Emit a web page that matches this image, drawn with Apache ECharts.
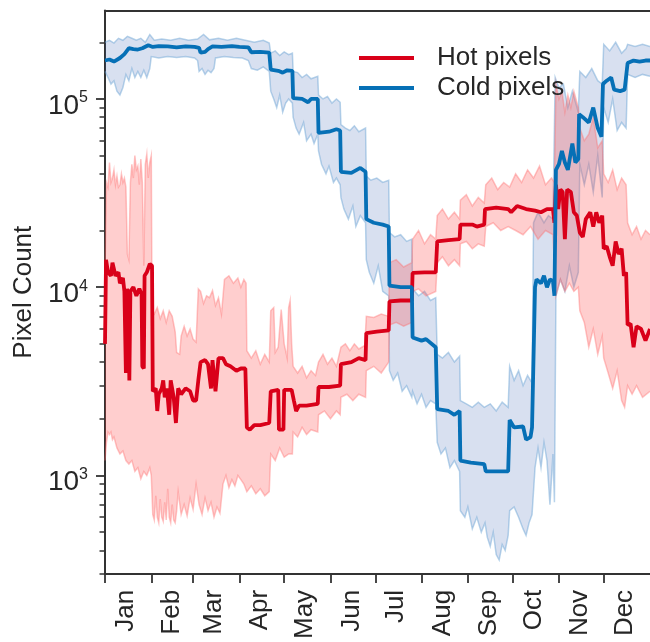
<!DOCTYPE html>
<html>
<head>
<meta charset="utf-8">
<script src="https://cdn.jsdelivr.net/npm/echarts@6/dist/echarts.min.js"></script>
<style>html,body{margin:0;padding:0;background:#fff;}</style>
</head>
<body>
<div id="chart" style="width:650px;height:642px"></div>
<script type="text/javascript">
// axis values
var months = ['Jan', 'Feb', 'Mar', 'Apr', 'May', 'Jun', 'Jul', 'Aug', 'Sep', 'Oct', 'Nov', 'Dec'];
var monthStarts = [0, 31, 59, 90, 120, 151, 181, 212, 243, 273, 304, 334];
var majorTicks = [1e3, 1e4, 1e5];
var minorTicks = [300, 400, 500, 600, 700, 800, 900,
    2000, 3000, 4000, 5000, 6000, 7000, 8000, 9000,
    20000, 30000, 40000, 50000, 60000, 70000, 80000, 90000, 200000];

// [day of year, pixel count]
var hotMedian = [[0, 5000], [0.7, 14000], [2, 12000], [4, 11500], [5, 13500], [7, 11500], [9, 12000], [10, 10500], [12, 11200], [13, 9500], [14, 3500], [14.8, 9800], [15.5, 9000], [16.3, 3200], [17, 9500], [19, 10000], [21, 9000], [23, 9800], [24.5, 9200], [25, 3800], [26, 3700], [26.5, 11500], [28, 12000], [30, 13300], [31.5, 13000],
    [32, 2800], [34, 2900], [35, 2200], [36, 2700], [38, 2900], [39, 3200], [40, 2600], [41.5, 2900], [43, 2100], [44, 3200], [46, 2600], [47.5, 1900], [49, 2900], [51, 2700], [54, 2900], [57, 2800], [59, 2500], [61, 2500], [62.5, 3200], [64, 4000], [67, 4100], [69, 3900], [71, 2900], [72, 4100], [74, 2800], [76, 4200], [79, 4200], [81, 3900], [84, 3800], [88, 3600], [91, 3700], [94, 3700],
    [95, 1800], [97, 1750], [100, 1850], [104, 1850], [110, 1900], [111, 2800], [116, 2850], [116.5, 1750], [119.5, 1750], [120, 2850], [125, 2850], [126.5, 2500], [128, 2200], [130, 2350], [135, 2350], [142.5, 2400], [143, 2950], [150, 2950], [157.5, 3000], [158, 3900], [165, 4000], [170, 4200], [174.5, 4100],
    [175, 5700], [182, 5800], [190, 5900], [190.5, 8400], [198, 8500], [205.5, 8500], [206, 11900], [214, 12000], [221.5, 12000], [222.5, 17500], [230, 17800], [237.5, 18000], [238, 21500], [246, 21500], [249, 21000], [254, 21500], [254.5, 26000], [262, 26500], [270, 26000], [272, 25000], [276, 27000], [282, 26000], [288, 25500], [292, 25000], [296, 26000], [300, 26000],
    [301, 22000], [302, 35000], [303.5, 26000], [305, 33000], [306.5, 32000], [308, 18000], [309.5, 33000], [312, 32000], [314, 25000], [316, 24000], [318, 19500], [320, 18500], [322, 23000], [325, 25000], [327, 21000], [329, 25000], [331, 22000], [333, 24000], [334, 16000], [336, 16500], [338, 14500], [340, 13000], [342, 17500], [344, 15000], [346, 16000], [347.5, 11500], [349, 12000], [350, 6300], [352, 6400], [354, 4800], [356, 6200], [359, 6000], [362, 5200], [365, 6000]];

var hotUpper = [[0, 12000], [1, 36000], [2, 34000], [3, 46000], [4, 36000], [5, 38000], [6, 42000], [7, 35000], [8, 39000], [9, 34000], [10, 35000], [11, 40000], [12, 36000], [13, 38000], [14, 34000], [15, 15000], [16, 14000], [17, 36000], [18, 45000], [19, 38000], [20, 50000], [21, 42000], [22, 44000], [23, 35000], [24, 48000], [25, 36000], [26, 13000], [27, 45000], [28, 51000], [29, 38000], [30, 46000], [31, 50000],
    [31.5, 7500], [33, 7200], [35, 7800], [37, 6800], [39, 7500], [41, 6500], [43, 7500], [45, 7000], [47, 5800], [48, 4500], [50, 4400], [51, 5500], [53, 6200], [55, 5500], [57, 6000], [59, 5300], [61, 5100], [62.5, 9800], [64, 9500], [66, 8200], [68, 9000], [70, 8800], [72, 9600], [74, 8000], [76, 8800], [78, 7200], [80, 11000], [83, 11500], [86, 10500], [89, 11200], [91, 10000], [93, 11000], [94.5, 10500],
    [95, 4600], [98, 4200], [101, 4600], [104, 3900], [107, 4400], [110, 4000], [111, 7500], [113, 7800], [114, 4500], [116, 4800], [118, 7600], [120, 5000], [122, 4200], [123, 7800], [124, 8500], [125, 5000], [126, 3800], [129, 3500], [132, 3800], [135, 3300], [138, 3600], [141, 3400], [143, 4000], [146, 4400], [149, 3900], [152, 4200], [155, 3800], [158, 4800], [161, 5000], [164, 4600], [167, 5000], [170, 4700], [174, 4900],
    [175, 7000], [180, 6900], [185, 7200], [190, 7000], [190.5, 13500], [195, 14000], [200, 12800], [205.5, 13500], [206, 18000], [210, 20000], [214, 17000], [218, 19000], [221.5, 18000], [222.5, 24000], [226, 26000], [230, 23000], [234, 25000], [237.5, 23000], [238, 29000], [242, 31000], [246, 27000], [250, 30000], [254, 28000], [255, 35000], [259, 38000], [263, 33000], [267, 36000], [271, 34000], [275, 40000], [279, 36000], [283, 42000], [287, 38000], [291, 44000], [295, 35000], [299, 38000], [301, 36000],
    [302, 120000], [304, 100000], [306, 110000], [308, 85000], [310, 105000], [312, 90000], [314, 110000], [317, 90000], [318, 70000], [321, 60000], [324, 65000], [327, 80000], [330, 55000], [333, 60000], [334, 40000], [337, 36000], [340, 42000], [343, 33000], [346, 38000], [349, 35000], [350, 22000], [353, 19000], [356, 21000], [359, 18000], [362, 20000], [365, 19000]];

var hotLower = [[0, 1200], [1, 1500], [2, 1700], [3, 1650], [4, 1700], [5, 1550], [6, 1600], [8, 1400], [10, 1300], [12, 1350], [14, 1200], [16, 1150], [18, 1200], [20, 1050], [22, 1100], [24, 960], [26, 1050], [28, 1000], [30, 1100], [31, 1000],
    [32, 620], [33, 580], [34, 780], [35, 600], [36, 560], [37, 750], [38, 600], [39, 570], [40, 720], [41, 580], [42, 850], [43, 600], [44, 560], [45, 700], [46, 580], [47, 560], [48, 650], [49, 820], [51, 620], [53, 700], [55, 610], [57, 760], [59, 660], [61, 900], [63, 700], [65, 620], [67, 760], [69, 650], [71, 720], [73, 600], [75, 680], [77, 630], [79, 900], [81, 1000], [83, 860], [85, 950], [87, 880], [89, 1000], [91, 950], [93, 900],
    [95, 820], [98, 880], [101, 800], [104, 850], [107, 780], [110, 820], [111, 1300], [114, 1200], [117, 1400], [120, 1250], [123, 1300], [125.5, 1300], [126, 1700], [129, 1600], [132, 1800], [135, 1650], [138, 1750], [142.5, 1700], [143, 2100], [147, 2200], [151, 2000], [155, 2200], [157.5, 2100], [158, 2600], [162, 2700], [166, 2500], [170, 2700], [174.5, 2600],
    [175, 3600], [180, 3800], [185, 3500], [190, 4000], [190.5, 6300], [195, 6500], [200, 6200], [205.5, 6500], [206, 9500], [210, 9800], [215, 9000], [221.5, 9500], [222.5, 13500], [226, 14500], [230, 13000], [234, 14000], [237.5, 13000], [238, 17000], [242, 17500], [246, 16000], [250, 17000], [254, 16500], [255, 21000], [260, 22000], [265, 20000], [270, 21000], [275, 20000], [280, 19000], [285, 21000], [290, 18000], [295, 20000], [300, 19000],
    [302, 9000], [305, 11000], [308, 9500], [311, 10500], [314, 9500], [317, 10000], [318, 7500], [321, 6500], [324, 4800], [327, 6000], [330, 4400], [333, 5500], [334, 4200], [337, 3500], [340, 2900], [343, 3600], [346, 2500], [348, 2300], [350, 3000], [353, 2700], [356, 3000], [360, 2600], [365, 2800]];

var coldMedian = [[0, 160000], [3, 162000], [6, 158000], [10, 165000], [13, 173000], [16, 186000], [19, 184000], [22, 183000], [25, 186000], [29, 193000], [32, 189000], [36, 191000], [42, 190000], [48, 188000], [54, 190000], [60, 189000], [63, 187000], [64, 176000], [67, 178000], [69, 184000], [72, 190000], [78, 189000], [85, 191000], [90, 189000], [96, 188000], [98, 177000], [104, 178000], [110, 176000],
    [111, 143000], [116, 141000], [119, 138000], [122, 142000], [125.5, 141000], [126, 101000], [132, 100000], [136, 96000], [138, 100000], [142.5, 100000], [143, 66000], [150, 67000], [155, 69000], [157.5, 68000], [158, 41000], [165, 40500], [171, 43000], [174.5, 41000], [175, 23000], [180, 22000], [186, 21500], [190, 21000],
    [190.5, 10200], [198, 10000], [205.5, 10000], [206, 5400], [212, 5200], [215, 5300], [221.5, 4800], [222.5, 2250], [230, 2200], [234, 2100], [237.5, 2200], [238, 1200], [245, 1170], [254, 1150], [255, 1050], [262, 1050], [270, 1050],
    [271, 1970], [274, 1800], [280, 1820], [282, 1550], [285, 1600], [286, 1800], [288, 10000], [289, 11000], [292, 10500], [294, 11500], [296, 10000], [298, 11000], [300, 10800], [301, 9000], [302, 42000], [304, 45000], [306, 53000], [308, 46000], [310, 42000], [313, 58000], [315, 46000], [317, 48000],
    [317.5, 83000], [320, 80000], [324, 75000], [327, 90000], [330, 70000], [332.5, 63000], [333.5, 120000], [336, 125000], [339, 130000], [341, 112000], [345, 110000], [348, 112000], [350, 155000], [354, 160000], [358, 158000], [362, 160000], [365, 160000]];

var coldUpper = [[0, 200000], [3, 205000], [6, 198000], [9, 210000], [12, 205000], [15, 215000], [18, 210000], [21, 205000], [24, 210000], [27, 200000], [30, 220000], [33, 205000], [38, 208000], [44, 205000], [50, 210000], [56, 205000], [62, 208000], [66, 220000], [70, 206000], [76, 210000], [82, 205000], [88, 210000], [94, 205000], [100, 200000], [106, 205000], [110, 198000],
    [111, 175000], [114, 180000], [117, 170000], [120, 178000], [123, 172000], [125.5, 175000], [126, 140000], [129, 138000], [132, 130000], [135, 135000], [138, 128000], [142.5, 132000], [143, 105000], [146, 100000], [149, 103000], [152, 95000], [155, 100000], [157.5, 96000], [158, 73000], [161, 70000], [164, 68000], [167, 72000], [170, 67000], [174.5, 70000],
    [175, 39000], [178, 37000], [182, 38000], [186, 36000], [190, 37000], [190.5, 19500], [194, 18500], [198, 19000], [202, 17500], [205.5, 18000], [206, 9800], [210, 9000], [214, 9500], [218, 8500], [221.5, 8800], [222.5, 4400], [226, 4200], [230, 4500], [234, 4000], [237.5, 4300], [238, 2500], [242, 2400], [246, 2300], [250, 2450], [254, 2300], [258, 2400], [262, 2200], [266, 2450], [270, 2300],
    [271, 3800], [274, 3200], [277, 3600], [280, 3000], [283, 3400], [286, 3100], [287, 22000], [290, 25000], [294, 22000], [297, 24000], [300, 23000], [301.5, 130000], [304, 115000], [307, 120000], [310, 90000], [313, 110000], [317, 85000], [318, 140000], [322, 130000], [326, 145000], [330, 125000], [333, 120000], [334, 195000], [338, 180000], [342, 200000], [346, 175000], [349, 185000], [350, 195000], [355, 190000], [360, 195000], [365, 190000]];

var coldLower = [[0, 140000], [2, 130000], [4, 120000], [6, 125000], [8, 110000], [10, 105000], [12, 115000], [14, 135000], [16, 125000], [18, 145000], [20, 130000], [22, 140000], [24, 130000], [26, 142000], [28, 130000], [30, 145000], [31, 168000], [36, 165000], [42, 168000], [48, 166000], [54, 168000], [60, 165000], [62, 160000], [63, 140000], [65, 145000], [67, 135000], [69, 142000], [71, 138000], [73, 145000], [74, 165000], [80, 168000], [86, 166000], [92, 165000], [96, 160000], [98, 145000], [102, 142000], [106, 148000], [110, 140000],
    [111, 110000], [113, 100000], [115, 90000], [117, 105000], [119, 85000], [121, 95000], [123, 100000], [125.5, 95000], [126, 80000], [128, 70000], [130, 65000], [133, 75000], [135, 60000], [138, 65000], [140, 58000], [142.5, 65000], [143, 53000], [145, 45000], [148, 40000], [150, 44000], [153, 36000], [155, 38000], [157.5, 35000], [158, 30000], [160, 26000], [163, 23000], [166, 27000], [168, 21000], [171, 24000], [174.5, 22000],
    [175, 14000], [177, 12000], [180, 10500], [183, 13000], [186, 9500], [190, 9000], [190.5, 3600], [193, 3200], [196, 3500], [199, 2800], [202, 3000], [205.5, 2600], [206, 2800], [209, 2400], [212, 2700], [215, 2300], [218, 2500], [221.5, 2400], [222.5, 1500], [225, 1300], [228, 1400], [231, 1100], [234, 1200], [237.5, 1050], [238, 650], [241, 600], [243, 680], [246, 520], [249, 600], [252, 500], [254.5, 560], [256, 470], [258, 420], [260, 500], [262, 380], [264, 355], [266, 430], [268, 400], [270, 480],
    [271, 650], [274, 680], [277, 600], [280, 520], [282, 480], [284, 560], [286, 620], [288, 1100], [290, 1400], [292, 1100], [294, 1500], [296, 1200], [298, 700], [300, 1300], [301, 720], [302, 9000], [305, 11000], [308, 9500], [311, 13000], [314, 10000], [317, 12000], [318, 45000], [321, 35000], [324, 45000], [327, 32000], [330, 50000], [333, 30000], [334, 90000], [337, 75000], [340, 100000], [343, 68000], [346, 75000], [349, 70000], [350, 135000], [355, 130000], [360, 135000], [365, 132000]];

var font = 'Liberation Sans, Arial, sans-serif';
var ink = '#262626';
var hotColor = '#d90019';
var coldColor = '#0670b6';

// filled band between two edges, drawn through the axis scales
function bandItem(upper, lower, fill, edge) {
    return function (params, api) {
        var top = upper.map(function (p) { return api.coord(p); });
        var bottom = lower.map(function (p) { return api.coord(p); });
        return {
            type: 'group',
            children: [
                { type: 'polygon', shape: { points: top.concat(bottom.slice().reverse()) }, style: { fill: fill } },
                { type: 'polyline', shape: { points: top }, style: { stroke: edge, lineWidth: 1.5, fill: null } },
                { type: 'polyline', shape: { points: bottom }, style: { stroke: edge, lineWidth: 1.5, fill: null } }
            ]
        };
    };
}

var myChart = echarts.init(document.getElementById('chart'), null, { renderer: 'canvas' });

var option = {
    backgroundColor: '#fff',
    animation: false,
    grid: { left: 105, right: -4, top: 10.5, bottom: 62 },
    legend: {
        data: ['Hot pixels', 'Cold pixels'],
        orient: 'vertical',
        left: 359,
        top: 45,
        padding: 0,
        itemGap: 4,
        itemWidth: 55,
        itemHeight: 3.8,
        icon: 'rect',
        textStyle: { fontFamily: font, fontSize: 26, color: ink, lineHeight: 26, padding: [0, 0, 0, 18] }
    },
    xAxis: [{
        type: 'value',
        min: 0,
        max: 365,
        position: 'bottom',
        splitLine: { show: false },
        axisLine: { show: true, lineStyle: { color: '#333', width: 2 } },
        axisTick: { show: true, customValues: monthStarts, length: 9, lineStyle: { color: '#333', width: 1.8 } },
        axisLabel: {
            customValues: monthStarts.map(function (d) { return d + 14; }),
            formatter: function (v) { return months[monthStarts.indexOf(v - 14)]; },
            rotate: 90,
            margin: 16,
            fontFamily: font,
            fontSize: 26,
            color: ink
        }
    }, {
        type: 'value',
        min: 0,
        max: 365,
        position: 'top',
        splitLine: { show: false },
        axisLine: { show: true, lineStyle: { color: '#333', width: 2 } },
        axisTick: { show: false },
        axisLabel: { show: false }
    }],
    yAxis: [{
        type: 'log',
        logBase: 10,
        min: 300,
        max: 295000,
        position: 'left',
        name: 'Pixel Count',
        nameLocation: 'middle',
        nameGap: 65,
        nameTextStyle: { fontFamily: font, fontSize: 26, color: ink },
        splitLine: { show: false },
        axisLine: { show: true, lineStyle: { color: '#333', width: 2 } },
        axisTick: { show: true, customValues: majorTicks, length: 9, lineStyle: { color: '#333', width: 1.8 } },
        axisLabel: {
            customValues: majorTicks,
            margin: 17,
            formatter: function (v) { return '10{sup|' + Math.round(Math.log10(v)) + '}'; },
            fontFamily: font,
            fontSize: 28,
            color: ink,
            rich: {
                sup: { fontFamily: font, fontSize: 16, color: ink, lineHeight: 16, padding: [0, 0, 14, 0], verticalAlign: 'bottom' }
            },
            lineHeight: 28,
            padding: [14, 0, 0, 0]
        }
    }, {
        type: 'log',
        logBase: 10,
        min: 300,
        max: 295000,
        position: 'left',
        splitLine: { show: false },
        axisLine: { show: false },
        axisTick: { show: true, customValues: minorTicks, length: 5.5, lineStyle: { color: '#333', width: 1.5 } },
        axisLabel: { show: false }
    }],
    series: [{
        type: 'custom',
        silent: true,
        xAxisIndex: 0,
        yAxisIndex: 0,
        renderItem: bandItem(coldUpper, coldLower, 'rgba(60,100,180,0.2)', 'rgba(100,160,210,0.45)'),
        data: [[0, 1000]],
        z: 1
    }, {
        type: 'custom',
        silent: true,
        xAxisIndex: 0,
        yAxisIndex: 0,
        renderItem: bandItem(hotUpper, hotLower, 'rgba(255,60,60,0.25)', 'rgba(255,110,110,0.4)'),
        data: [[0, 1000]],
        z: 1
    }, {
        name: 'Hot pixels',
        type: 'line',
        xAxisIndex: 0,
        yAxisIndex: 0,
        symbol: 'none',
        color: hotColor,
        lineStyle: { color: hotColor, width: 3.8 },
        data: hotMedian,
        z: 3
    }, {
        name: 'Cold pixels',
        type: 'line',
        xAxisIndex: 0,
        yAxisIndex: 0,
        symbol: 'none',
        color: coldColor,
        lineStyle: { color: coldColor, width: 3.8 },
        data: coldMedian,
        z: 3
    }]
};
myChart.setOption(option);
</script>
</body>
</html>
